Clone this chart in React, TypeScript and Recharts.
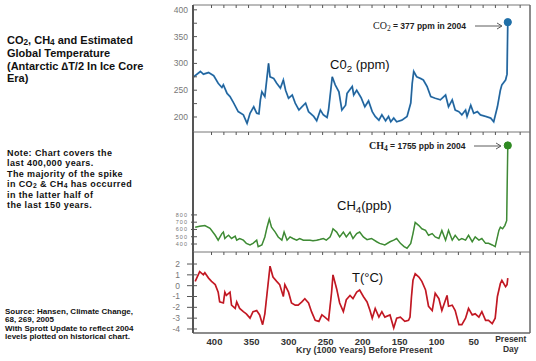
import { LineChart, Line, XAxis, YAxis } from 'recharts'

// kyr before present (x) for every series
const kyrTicks = [400, 350, 300, 250, 200, 150, 100, 50, 0]
const minorKyr = [400, 383.3, 366.7, 350, 333.3, 316.7, 300, 283.3, 266.7, 250, 233.3, 216.7, 200, 183.3, 166.7, 150, 133.3, 116.7, 100, 83.3, 66.7, 50, 33.3, 16.7, 0, -16.7]

const co2Kyr = [424, 415, 411, 404, 397, 391, 386, 384, 379, 375, 370, 364, 357, 352, 348, 343, 339, 336, 334, 332, 328, 327, 323, 321, 316, 312, 307, 303, 300, 296, 291, 287, 282, 278, 273, 269, 262, 258, 253, 249, 244, 242, 237, 233, 228, 224, 219, 217, 210, 208, 204, 198, 193, 188, 183, 179, 174, 170, 165, 161, 158, 154, 150, 143, 136, 131, 129, 127, 123, 118, 114, 109, 104, 98, 91, 84, 80, 75, 71, 66, 62, 57, 55, 50, 46, 41, 37, 30, 23, 19, 14, 10, 8, 3, 1, 0]
const co2Ppm = [275, 285, 280, 283, 277, 263, 255, 260, 244, 238, 226, 210, 204, 188, 207, 219, 207, 206, 232, 247, 238, 250, 300, 275, 272, 263, 254, 269, 250, 235, 241, 226, 213, 219, 226, 210, 201, 193, 213, 204, 199, 213, 275, 260, 247, 213, 222, 244, 257, 241, 250, 236, 219, 230, 210, 201, 194, 204, 193, 201, 191, 198, 191, 194, 201, 226, 263, 285, 275, 272, 269, 257, 238, 235, 232, 241, 219, 232, 213, 210, 204, 213, 201, 222, 207, 210, 204, 201, 198, 191, 219, 250, 260, 269, 280, 377]

const ch4Kyr = [422, 416, 409, 402, 395, 391, 386, 384, 382, 380, 377, 373, 368, 366, 362, 357, 353, 348, 344, 339, 337, 332, 328, 325, 322, 319, 314, 310, 305, 302, 298, 294, 290, 285, 281, 276, 272, 267, 263, 258, 254, 249, 245, 240, 238, 236, 231, 227, 222, 218, 213, 209, 204, 200, 195, 190, 184, 177, 173, 166, 159, 154, 150, 145, 140, 136, 131, 128, 125, 120, 116, 111, 107, 102, 98, 93, 89, 84, 80, 75, 71, 66, 62, 57, 53, 48, 44, 39, 35, 30, 26, 21, 17, 12, 10, 7, 4, 1.5, 0]
const ch4Ppb = [631, 644, 653, 617, 520, 453, 543, 564, 476, 497, 520, 476, 507, 453, 476, 453, 409, 387, 409, 453, 364, 387, 497, 631, 742, 631, 564, 497, 453, 564, 453, 497, 476, 453, 476, 453, 453, 453, 444, 453, 462, 476, 453, 497, 543, 609, 564, 497, 564, 497, 564, 476, 543, 565, 497, 460, 476, 431, 409, 387, 431, 453, 476, 409, 364, 342, 409, 543, 697, 653, 609, 587, 520, 543, 497, 476, 587, 453, 587, 453, 520, 453, 476, 453, 520, 431, 497, 453, 476, 409, 409, 387, 364, 587, 631, 609, 653, 720, 1755]

const tKyr = [422, 418, 416, 411, 409, 404, 400, 395, 391, 389, 384, 382, 380, 375, 373, 368, 366, 362, 357, 353, 348, 344, 339, 335, 331, 328, 325, 321, 317, 312, 308, 303, 301, 296, 292, 287, 283, 278, 274, 269, 265, 260, 255, 251, 247, 242, 238, 236, 231, 227, 222, 218, 213, 209, 204, 200, 195, 190, 186, 183, 179, 174, 170, 166, 159, 154, 150, 145, 139, 134, 132, 130, 128, 125, 120, 116, 111, 107, 102, 98, 93, 89, 82, 80, 75, 71, 66, 62, 57, 53, 48, 44, 39, 35, 30, 26, 21, 17, 14, 10, 8, 3, 1, 0]
const tDeg = [0.4, 1.0, 1.3, 1.0, 1.2, 0.7, 0.4, 0.1, -0.6, -1.5, -1.6, -0.6, -0.9, -0.6, -1.8, -2.1, -1.5, -2.1, -2.4, -2.6, -3.0, -2.4, -2.3, -2.7, -3.6, -2.6, -0.7, 1.8, 0.8, 0.4, 0.1, -1.0, 0.1, -0.6, -1.6, -1.8, -1.8, -1.5, -1.2, -1.6, -2.4, -3.2, -3.3, -2.7, -2.9, -3.2, -0.7, 1.0, -0.3, -1.6, -2.4, -1.3, -0.9, -1.2, -0.6, -0.4, -1.0, -1.5, -2.3, -3.0, -2.1, -2.9, -2.4, -2.9, -2.7, -3.9, -3.0, -2.9, -3.3, -3.2, -2.9, -1.0, 0.5, 1.1, 0.8, 0.4, -0.4, -1.9, -2.3, -0.7, -1.2, -2.3, -0.9, -1.9, -1.8, -2.3, -3.6, -3.6, -3.0, -2.1, -2.7, -2.6, -2.9, -2.4, -3.2, -3.2, -3.5, -3.0, -1.0, 0.2, 0.5, -0.1, 0.1, 0.7]

const co2Ticks = [200, 225, 250, 275, 300, 325, 350, 375, 400]
const ch4Ticks = [400, 500, 600, 700, 800]
const tTicks = [-4, -3, -2, -1, 0, 1, 2]
const tRightTicks = [-4, -3, -2, -1]

const co2Data = co2Kyr.map((k, i) => ({ kyr: k, v: co2Ppm[i] }))
const ch4Data = ch4Kyr.map((k, i) => ({ kyr: k, v: ch4Ppb[i] }))
const tData = tKyr.map((k, i) => ({ kyr: k, v: tDeg[i] }))

const W = 536
const H = 361
const X_DOMAIN = [-30, 425]
const SANS = '"Liberation Sans", Arial, sans-serif'

const leftTick = (opts: { out: number; gap: number; size: number; fmt?: (v: number) => string; spacing?: number }) => (p: any) => {
  const v = p.payload.value
  const lab = opts.fmt ? opts.fmt(v) : String(v)
  return (
    <g key={`lt-${v}`}>
      <line x1={p.x - opts.out} x2={p.x + 4} y1={p.y} y2={p.y} stroke="#555" strokeWidth={1} />
      {lab !== '' && (
        <text x={p.x - opts.gap} y={p.y} dy="0.35em" textAnchor="end" fontSize={opts.size}
          fontFamily={SANS} fill="#777" letterSpacing={opts.spacing ?? 0}>{lab}</text>
      )}
    </g>
  )
}

const rightTick = (p: any) => (
  <g key={`rt-${p.payload.value}`}>
    <line x1={p.x - 5} x2={p.x} y1={p.y} y2={p.y} stroke="#555" strokeWidth={1} />
  </g>
)

const topTick = (p: any) => (
  <g key={`tt-${p.payload.value}`}>
    <line x1={p.x} x2={p.x} y1={p.y} y2={p.y + 3} stroke="#555" strokeWidth={1} />
  </g>
)

const bottomTick = (p: any) => {
  const v = p.payload.value
  if (v === 0) {
    return (
      <g key="bt-0">
        <text x={p.x + 3} y={p.y + 9} textAnchor="middle" fontSize={8.5} fontWeight="bold" fontFamily={SANS} fill="#333">Present</text>
        <text x={p.x + 3} y={p.y + 19} textAnchor="middle" fontSize={8.5} fontWeight="bold" fontFamily={SANS} fill="#333">Day</text>
      </g>
    )
  }
  return (
    <text key={`bt-${v}`} x={p.x + 3} y={p.y + 11.5} textAnchor="middle" fontSize={9.5} fontWeight="bold" fontFamily={SANS} fill="#333">{v}</text>
  )
}

const endDot = (last: number, color: string) => (p: any) => {
  if (p.index !== last) return <g key={`d-${p.index}`} />
  return <circle key={`d-${p.index}`} cx={p.cx} cy={p.cy} r={3.6} fill={color} stroke={color} />
}

const chartStyle = { position: 'absolute' as const, left: 0, top: 0 }

const Sub = ({ children, drop = '-0.3em' }: { children: string; drop?: string }) => (
  <span style={{ fontSize: '0.75em', verticalAlign: drop, lineHeight: 0 }}>{children}</span>
)

export default function App() {
  return (
    <div style={{ position: 'absolute', left: 0, top: 0, width: W, height: H, background: '#fff', overflow: 'hidden', fontFamily: SANS }}>
      {/* CO2 panel */}
      <LineChart width={W} height={H} data={co2Data} margin={{ top: 4, right: 5, bottom: H - 132, left: 192 }} style={chartStyle}>
        <XAxis dataKey="kyr" type="number" domain={X_DOMAIN} reversed orientation="top"
          height={1} ticks={minorKyr} interval={0} tickLine={false} tickSize={0} tickMargin={0} tick={topTick}
          axisLine={{ stroke: '#777', strokeWidth: 1 }} allowDataOverflow />
        <YAxis yAxisId="r" orientation="right" width={1} domain={[172, 409]} axisLine={{ stroke: '#666', strokeWidth: 1.5 }}
          tick={false} tickLine={false} />
        <YAxis domain={[172, 409]} ticks={co2Ticks} interval={0} width={1} tickSize={0} tickMargin={0}
          tickLine={false} axisLine={{ stroke: '#555', strokeWidth: 2 }} allowDataOverflow
          tick={leftTick({ out: 1, gap: 5, size: 8.5, fmt: (v) => (v % 50 === 0 ? String(v) : '') })} />
        <Line dataKey="v" stroke="#2f7fc0" strokeWidth={1.8} isAnimationActive={false}
          dot={endDot(co2Data.length - 1, '#1f6fa8')} />
        <Line dataKey="v" stroke="#1c2f48" strokeWidth={0.6} strokeOpacity={0.7} dot={false} isAnimationActive={false} />
      </LineChart>

      {/* CH4 panel */}
      <LineChart width={W} height={H} data={ch4Data} margin={{ top: 131, right: 5, bottom: H - 252, left: 192 }} style={chartStyle}>
        <XAxis dataKey="kyr" type="number" domain={X_DOMAIN} reversed orientation="top"
          height={1} ticks={minorKyr} interval={0} tickLine={false} tickSize={0} tickMargin={0} tick={topTick}
          axisLine={{ stroke: '#777', strokeWidth: 1 }} allowDataOverflow />
        <YAxis yAxisId="r" orientation="right" width={1} domain={[290, 1940]} axisLine={{ stroke: '#666', strokeWidth: 1.5 }}
          tick={false} tickLine={false} />
        <YAxis domain={[290, 1940]} ticks={ch4Ticks} interval={0} width={1} tickSize={0} tickMargin={0}
          tickLine={false} axisLine={{ stroke: '#555', strokeWidth: 2 }} allowDataOverflow
          tick={leftTick({ out: 2, gap: 5, size: 5.5, spacing: 1 })} />
        <Line dataKey="v" stroke="#3f9c33" strokeWidth={1.5} isAnimationActive={false}
          dot={endDot(ch4Data.length - 1, '#2f8a22')} />
        <Line dataKey="v" stroke="#4a4a4a" strokeWidth={0.5} strokeOpacity={0.6} dot={false} isAnimationActive={false} />
      </LineChart>

      {/* Temperature panel */}
      <LineChart width={W} height={H} data={tData} margin={{ top: 251, right: 5, bottom: H - 334, left: 192 }} style={chartStyle}>
        <XAxis dataKey="kyr" type="number" domain={X_DOMAIN} reversed orientation="top"
          height={1} ticks={minorKyr} interval={0} tickLine={false} tickSize={0} tickMargin={0} tick={topTick}
          axisLine={{ stroke: '#777', strokeWidth: 1 }} allowDataOverflow />
        <XAxis xAxisId="b" dataKey="kyr" type="number" domain={X_DOMAIN} reversed orientation="bottom" height={1}
          ticks={kyrTicks} interval={0} tickLine={false} tickSize={0} tickMargin={0} tick={bottomTick}
          axisLine={{ stroke: '#666', strokeWidth: 1.5 }} />
        <YAxis domain={[-4.37, 3.11]} ticks={tTicks} interval={0} width={1} tickSize={0} tickMargin={0}
          tickLine={false} axisLine={{ stroke: '#555', strokeWidth: 2 }} allowDataOverflow
          tick={leftTick({ out: 6, gap: 13, size: 8.5 })} />
        <YAxis yAxisId="r" orientation="right" domain={[-4.37, 3.11]} ticks={tRightTicks} interval={0} width={1}
          tickSize={0} tickMargin={0} tickLine={false} axisLine={{ stroke: '#666', strokeWidth: 1.5 }} tick={rightTick} />
        <Line dataKey="v" stroke="#d3202c" strokeWidth={1.7} isAnimationActive={false} dot={false} />
        <Line dataKey="v" stroke="#7a0a10" strokeWidth={0.5} strokeOpacity={0.6} dot={false} isAnimationActive={false} />
      </LineChart>

      {/* annotation arrows */}
      <svg width={W} height={H} style={{ position: 'absolute', left: 0, top: 0, pointerEvents: 'none' }}>
        <line x1={475} x2={501} y1={26} y2={26} stroke="#333" strokeWidth={0.8} />
        <polyline points="497,23 502,26 497,29" fill="none" stroke="#333" strokeWidth={0.8} />
        <line x1={474} x2={500} y1={146} y2={146} stroke="#333" strokeWidth={0.8} />
        <polyline points="496,143 501,146 496,149" fill="none" stroke="#333" strokeWidth={0.8} />
      </svg>

      <div style={{ position: 'absolute', left: 373, top: 20, fontSize: 8.5, lineHeight: '12px', whiteSpace: 'nowrap', color: '#222' }}>
        <span style={{ fontFamily: '"Liberation Serif", serif', fontSize: 10 }}>CO<Sub>2</Sub></span>
        <b> = 377 ppm in 2004</b>
      </div>
      <div style={{ position: 'absolute', left: 369, top: 140, fontSize: 8.5, lineHeight: '12px', whiteSpace: 'nowrap', color: '#222' }}>
        <span style={{ fontFamily: '"Liberation Serif", serif', fontSize: 10, fontWeight: 'bold' }}>CH<Sub>4</Sub></span>
        <b> = 1755 ppb in 2004</b>
      </div>

      {/* series labels */}
      <div style={{ position: 'absolute', left: 330, top: 57, fontSize: 13, lineHeight: '16px', whiteSpace: 'nowrap', color: '#111' }}>
        C0<Sub>2</Sub> (ppm)
      </div>
      <div style={{ position: 'absolute', left: 337, top: 198, fontSize: 13, lineHeight: '16px', whiteSpace: 'nowrap', color: '#111' }}>
        CH<Sub>4</Sub>(ppb)
      </div>
      <div style={{ position: 'absolute', left: 352, top: 270, fontSize: 13, lineHeight: '16px', whiteSpace: 'nowrap', color: '#111' }}>
        T(°C)
      </div>

      <div style={{ position: 'absolute', left: 296, top: 344, fontSize: 9, fontWeight: 'bold', lineHeight: '12px', whiteSpace: 'nowrap', color: '#333' }}>
        Kry (1000 Years) Before Present
      </div>

      {/* left text blocks */}
      <div style={{ position: 'absolute', left: 7, top: 34, fontSize: 11, fontWeight: 'bold', lineHeight: '12.8px', color: '#111', whiteSpace: 'nowrap' }}>
        CO<Sub drop="-0.12em">2</Sub>, CH<Sub drop="-0.12em">4</Sub> and Estimated<br />
        Global Temperature<br />
        (Antarctic &#x2206;T/2 In Ice Core<br />
        Era)
      </div>
      <div style={{ position: 'absolute', left: 7, top: 148, fontSize: 9, letterSpacing: 0.4, fontWeight: 'bold', lineHeight: '10.4px', color: '#111', whiteSpace: 'nowrap' }}>
        Note: Chart covers the<br />
        last 400,000 years.<br />
        The majority of the spike<br />
        in CO<Sub drop="-0.12em">2</Sub> &amp; CH<Sub drop="-0.12em">4</Sub> has occurred<br />
        in the latter half of<br />
        the last 150 years.
      </div>
      <div style={{ position: 'absolute', left: 5, top: 308, fontSize: 8, fontWeight: 'bold', lineHeight: '8.4px', color: '#111', whiteSpace: 'nowrap' }}>
        Source: Hansen, Climate Change,<br />
        68, 269, 2005<br />
        With Sprott Update to reflect 2004<br />
        levels plotted on historical  chart.
      </div>
    </div>
  )
}
